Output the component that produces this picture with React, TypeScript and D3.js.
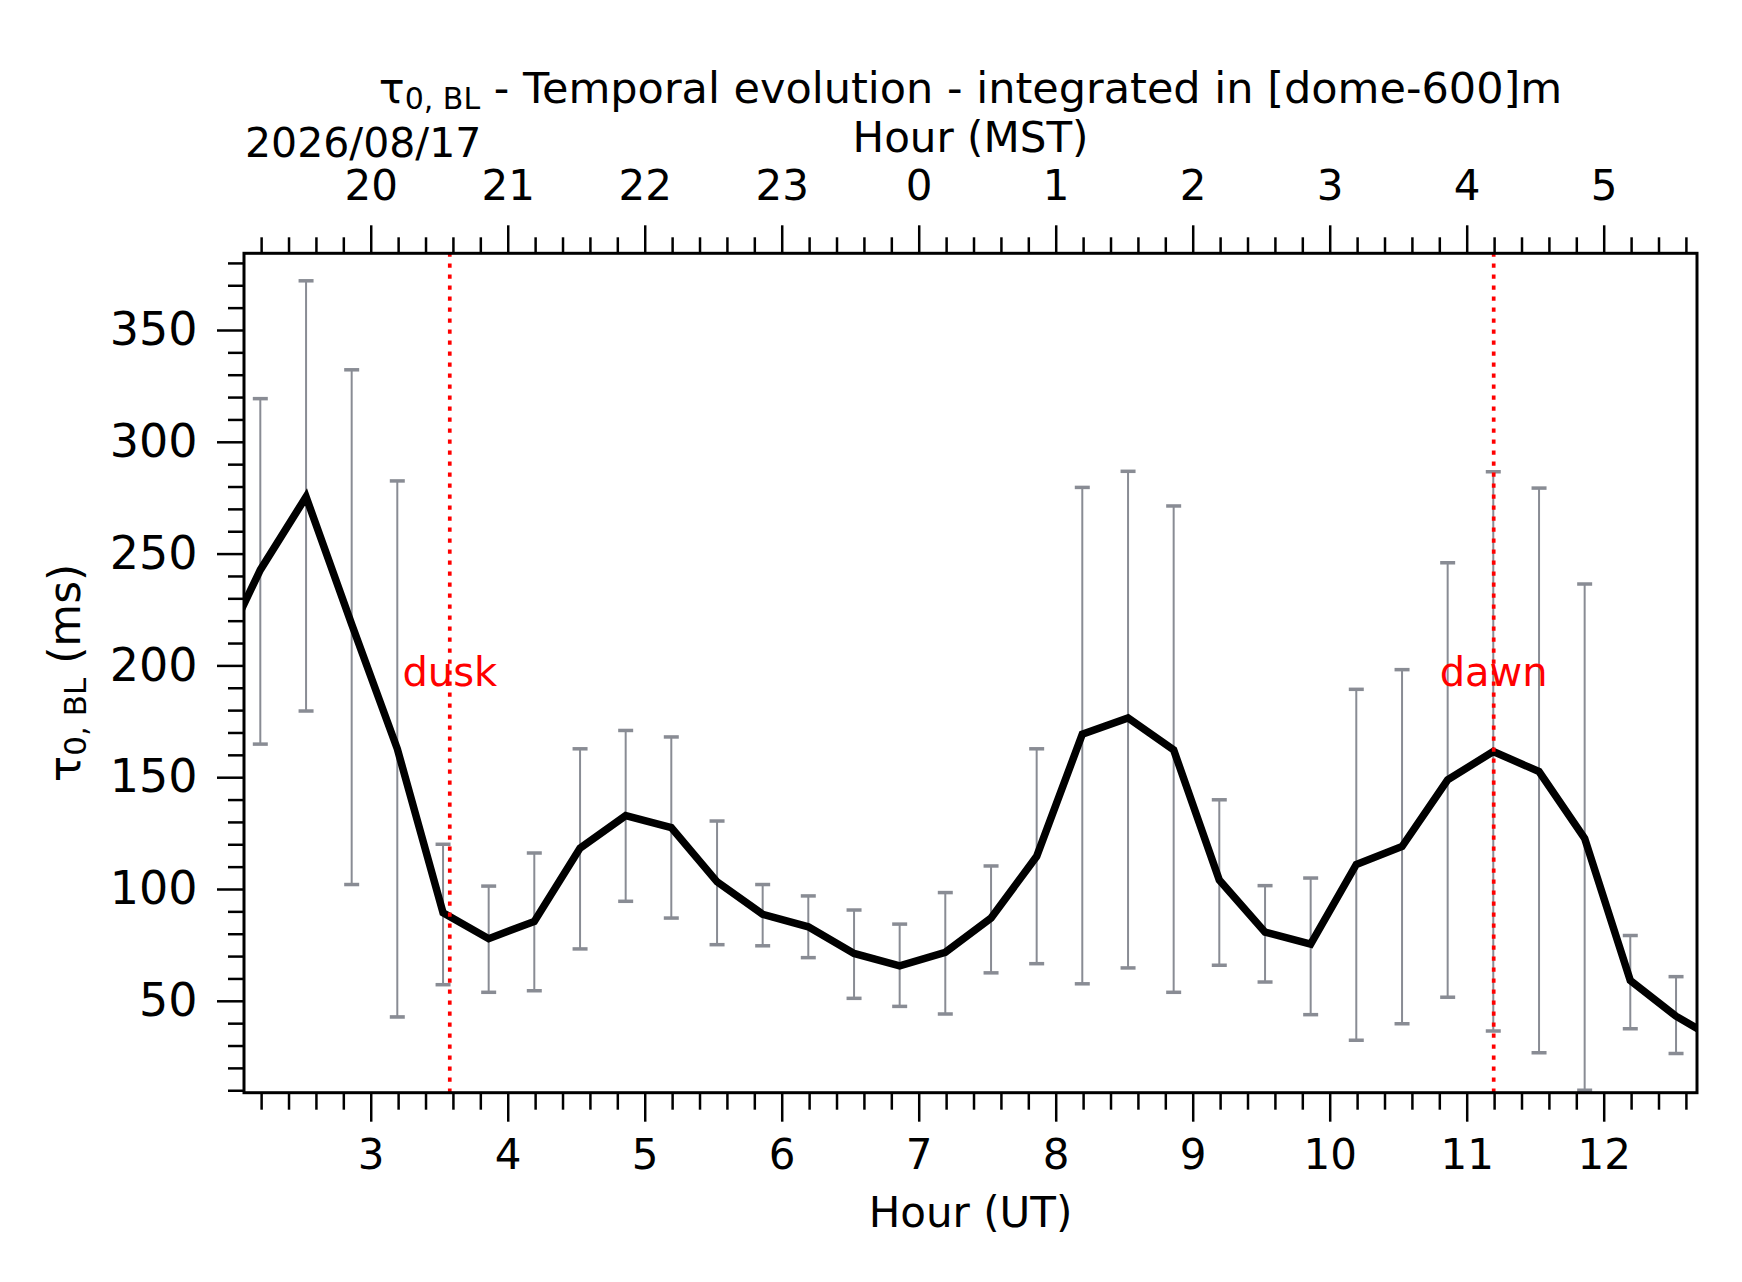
import { useRef, useEffect } from 'react';
import * as d3 from 'd3';

// UT hours of each 20-min sample (first and last fall outside the visible window)
const hoursUT = [
  1.861, 2.194, 2.528, 2.861, 3.194, 3.528, 3.861, 4.194, 4.528, 4.861, 5.194,
  5.528, 5.861, 6.194, 6.528, 6.861, 7.194, 7.528, 7.861, 8.194, 8.528, 8.861,
  9.194, 9.528, 9.861, 10.194, 10.528, 10.861, 11.194, 11.528, 11.861, 12.194,
  12.528, 12.861,
];
const tau0 = [
  200, 242.7, 275.4, 218.4, 162.7, 89.4, 77.8, 85.5, 118.3, 132.8, 127.5,
  103.2, 88.7, 83.1, 71.2, 65.6, 71.7, 87.0, 114.6, 169.2, 176.5, 162.2,
  104.0, 80.7, 75.3, 111.0, 119.0, 148.8, 161.5, 152.5, 122.6, 59.1,
  43.1, 31.3,
];
const tauLow = [
  130, 164.8, 179.6, 102.0, 42.8, 57.2, 53.8, 54.5, 73.2, 94.5, 87.0,
  75.1, 74.6, 69.3, 51.1, 47.5, 44.1, 62.5, 66.6, 57.6, 64.7, 53.8,
  65.9, 58.4, 43.8, 32.4, 39.7, 51.6, 36.5, 26.8, 10.0, 37.5,
  26.4, 20,
];
const tauHigh = [
  270, 319.3, 372.0, 332.2, 282.5, 120.0, 101.3, 116.1, 162.7, 170.9, 168.0,
  130.4, 102.0, 96.9, 90.6, 84.3, 98.4, 110.3, 162.7, 279.6, 286.8, 271.3,
  139.9, 101.5, 104.9, 189.3, 198.1, 245.9, 286.6, 279.3, 236.4, 79.2,
  60.8, 45,
];

const majorTicksUT = [3, 4, 5, 6, 7, 8, 9, 10, 11, 12];
const yMajorTicks = [50, 100, 150, 200, 250, 300, 350];

const duskUT = 3.577;
const duskLabel = 'dusk';
const dawnUT = 11.197;
const dawnLabel = 'dawn';
const dateLabel = '2026/08/17';
const utcOffset = -7;

const W = 1742;
const H = 1282;
const margin = { top: 253.3, left: 244, right: 45, bottom: 189.3 };
const FONT = 'DejaVu Sans, sans-serif';

export default function App() {
  const svgRef = useRef<SVGSVGElement>(null);

  useEffect(() => {
    const svg = d3.select(svgRef.current);
    svg.selectAll('*').remove();

    const width = W - margin.left - margin.right;
    const height = H - margin.top - margin.bottom;

    const x = d3.scaleLinear().domain([2.075, 12.681]).range([0, width]);
    const y = d3.scaleLinear().domain([8.9, 384.3]).range([height, 0]);

    // minor ticks every 12 minutes, every 10 ms
    const minorUT = d3.range(11, 64).map((d) => d / 5).filter((d) => d % 1 !== 0);
    const minorY = d3.range(10, 390, 10).filter((d) => d % 50 !== 0);

    svg
      .append('defs')
      .append('clipPath')
      .attr('id', 'plot-clip')
      .append('rect')
      .attr('width', width)
      .attr('height', height);

    const g = svg.append('g').attr('transform', `translate(${margin.left},${margin.top})`);

    const styleAxis = (sel: d3.Selection<SVGGElement, unknown, null, undefined>, size: number) => {
      sel.select('.domain').remove();
      sel.selectAll('.tick line').attr('stroke', '#000').attr('stroke-width', 2.5);
      sel.selectAll('text').attr('fill', '#000').style('font-family', FONT).style('font-size', `${size}px`);
    };

    // bottom axis (UT)
    g.append('g')
      .attr('transform', `translate(0,${height})`)
      .call(d3.axisBottom(x).tickValues(minorUT).tickSize(17).tickFormat(() => ''))
      .call((s) => styleAxis(s, 42));
    g.append('g')
      .attr('transform', `translate(0,${height})`)
      .call(d3.axisBottom(x).tickValues(majorTicksUT).tickSize(29).tickPadding(17.5).tickFormat(d3.format('d')))
      .call((s) => styleAxis(s, 42));

    // top axis (MST)
    g.append('g')
      .call(d3.axisTop(x).tickValues(minorUT).tickSize(16).tickFormat(() => ''))
      .call((s) => styleAxis(s, 42));
    g.append('g')
      .call(
        d3
          .axisTop(x)
          .tickValues(majorTicksUT)
          .tickSize(28)
          .tickPadding(25.3)
          .tickFormat((d) => String((((d as number) + utcOffset) % 24 + 24) % 24)),
      )
      .call((s) => styleAxis(s, 42));

    // left axis
    g.append('g')
      .call(d3.axisLeft(y).tickValues(minorY).tickSize(16).tickFormat(() => ''))
      .call((s) => styleAxis(s, 46));
    g.append('g')
      .call(d3.axisLeft(y).tickValues(yMajorTicks).tickSize(27).tickPadding(19.5).tickFormat(d3.format('d')))
      .call((s) => styleAxis(s, 46));

    const plot = g.append('g').attr('clip-path', 'url(#plot-clip)');

    // error bars
    const bars = plot
      .append('g')
      .selectAll('g')
      .data(hoursUT.map((t, i) => ({ t, lo: tauLow[i], hi: tauHigh[i] })))
      .enter()
      .append('g');
    bars
      .append('line')
      .attr('x1', (d) => x(d.t))
      .attr('x2', (d) => x(d.t))
      .attr('y1', (d) => y(d.lo))
      .attr('y2', (d) => y(d.hi))
      .attr('stroke', '#898c94')
      .attr('stroke-width', 2);
    ['lo', 'hi'].forEach((k) => {
      bars
        .append('line')
        .attr('x1', (d) => x(d.t) - 7.5)
        .attr('x2', (d) => x(d.t) + 7.5)
        .attr('y1', (d) => y(d[k as 'lo' | 'hi']))
        .attr('y2', (d) => y(d[k as 'lo' | 'hi']))
        .attr('stroke', '#898c94')
        .attr('stroke-width', 3.5);
    });

    // main series
    const line = d3
      .line<number>()
      .x((_, i) => x(hoursUT[i]))
      .y((d) => y(d));
    plot
      .append('path')
      .datum(tau0)
      .attr('fill', 'none')
      .attr('stroke', '#000')
      .attr('stroke-width', 7.5)
      .attr('stroke-linejoin', 'miter')
      .attr('d', line);

    // dusk / dawn markers
    [
      { t: duskUT, label: duskLabel },
      { t: dawnUT, label: dawnLabel },
    ].forEach(({ t, label }) => {
      g.append('line')
        .attr('x1', x(t))
        .attr('x2', x(t))
        .attr('y1', height)
        .attr('y2', 0)
        .attr('stroke', 'red')
        .attr('stroke-width', 3.7)
        .attr('stroke-dasharray', '4.3 6.7');
      g.append('text')
        .attr('x', x(t))
        .attr('y', 686.3 - margin.top)
        .attr('text-anchor', 'middle')
        .attr('fill', 'red')
        .style('font-family', FONT)
        .style('font-size', '40px')
        .text(label);
    });

    // frame
    g.append('rect')
      .attr('width', width)
      .attr('height', height)
      .attr('fill', 'none')
      .attr('stroke', '#000')
      .attr('stroke-width', 3);

    // title
    const title = svg
      .append('text')
      .attr('x', margin.left + width / 2)
      .attr('y', 102.7)
      .attr('text-anchor', 'middle')
      .style('font-family', FONT)
      .style('font-size', '43px');
    title.append('tspan').text('τ');
    title.append('tspan').attr('dy', 6).style('font-size', '30px').text('0, BL');
    title.append('tspan').attr('dy', -6).text(' - Temporal evolution - integrated in [dome-600]m');

    svg
      .append('text')
      .attr('x', 245)
      .attr('y', 156.7)
      .style('font-family', FONT)
      .style('font-size', '41px')
      .text(dateLabel);

    svg
      .append('text')
      .attr('x', margin.left + width / 2)
      .attr('y', 152)
      .attr('text-anchor', 'middle')
      .style('font-family', FONT)
      .style('font-size', '42px')
      .text('Hour (MST)');

    svg
      .append('text')
      .attr('x', margin.left + width / 2)
      .attr('y', 1227)
      .attr('text-anchor', 'middle')
      .style('font-family', FONT)
      .style('font-size', '42px')
      .text('Hour (UT)');

    const ylab = svg
      .append('text')
      .attr('transform', `translate(80,${margin.top + height / 2}) rotate(-90)`)
      .attr('text-anchor', 'middle')
      .style('font-family', FONT)
      .style('font-size', '44px');
    ylab.append('tspan').text('τ');
    ylab.append('tspan').attr('dy', 6).style('font-size', '31px').text('0, BL');
    ylab.append('tspan').attr('dy', -6).text(' (ms)');
  }, []);

  return (
    <svg
      ref={svgRef}
      width={W}
      height={H}
      style={{ position: 'absolute', left: 0, top: 0, background: '#fff' }}
    />
  );
}
